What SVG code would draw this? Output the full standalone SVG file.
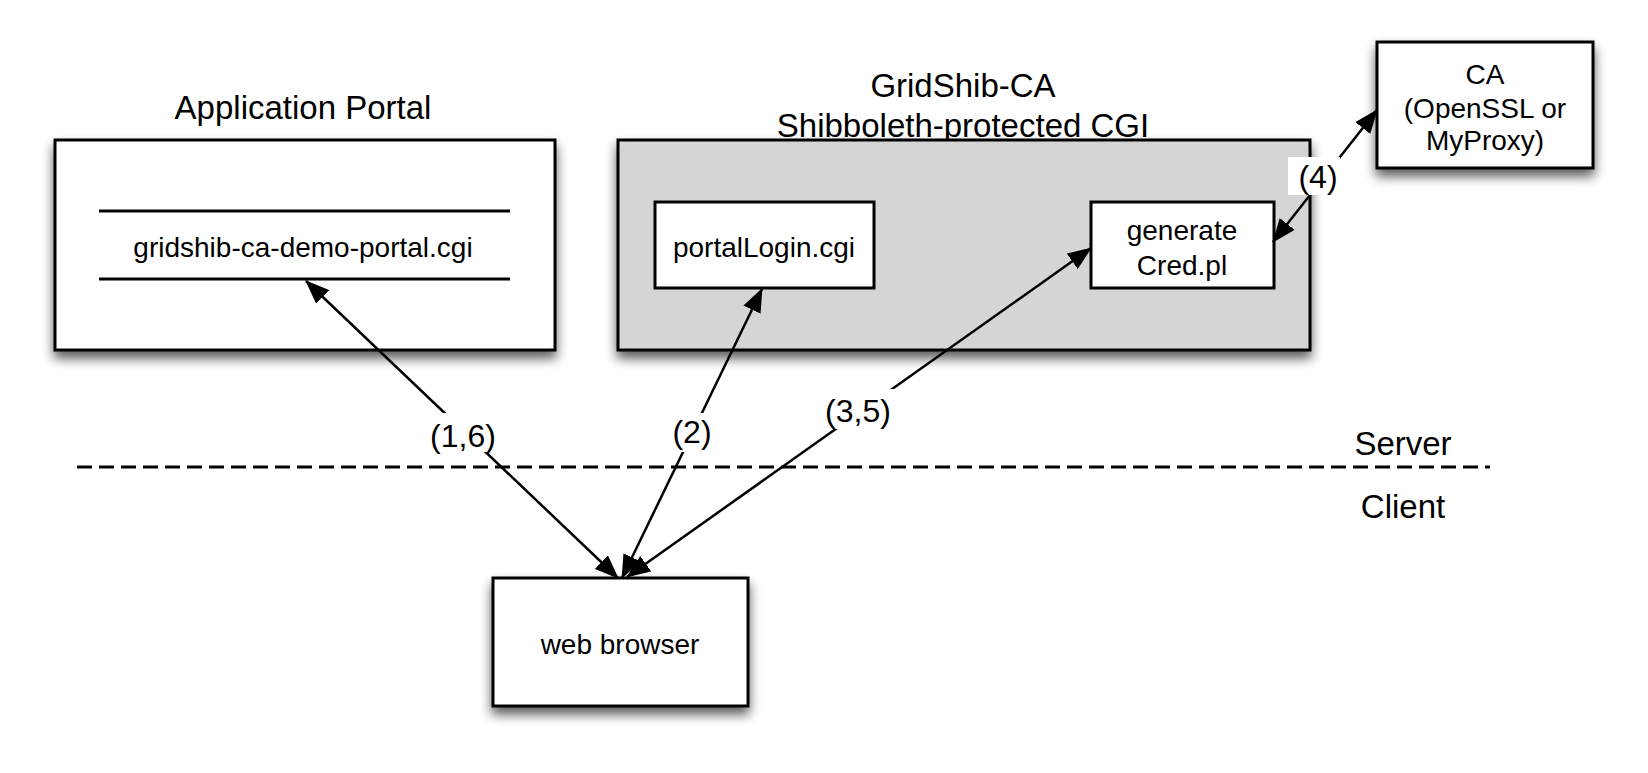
<svg xmlns="http://www.w3.org/2000/svg" width="1648" height="773" viewBox="0 0 1648 773">
<style>
text{font-family:"Liberation Sans",Arial,Helvetica,sans-serif;fill:#000;text-anchor:middle}
.big{font-size:33px}
.med{font-size:28px}
.lbl{font-size:32px}
.box{fill:#fff;stroke:#000;stroke-width:3}
.gray{fill:#d5d5d5;stroke:#000;stroke-width:3}
.sep{stroke:#000;stroke-width:3}
.conn{stroke:#000;stroke-width:2.5;fill:none;marker-start:url(#ah);marker-end:url(#ah)}
.lbg{fill:#fff}
</style>
<defs>
<filter id="sh" x="-10%" y="-10%" width="125%" height="135%">
<feGaussianBlur in="SourceAlpha" stdDeviation="6"/>
<feOffset dx="0" dy="7" result="b"/>
<feComponentTransfer><feFuncA type="linear" slope="0.65"/></feComponentTransfer>
<feMerge><feMergeNode/><feMergeNode in="SourceGraphic"/></feMerge>
</filter>
<marker id="ah" viewBox="0 0 24 19" refX="23" refY="9.5" markerWidth="24" markerHeight="19" markerUnits="userSpaceOnUse" orient="auto-start-reverse">
<path d="M0,0 L24,9.5 L0,19 z" fill="#000"/>
</marker>
</defs>
<rect width="1648" height="773" fill="#fff"/>

<g id="application-portal">
<text class="big" x="303" y="119">Application Portal</text>
<rect class="box" x="55" y="140" width="500" height="210" filter="url(#sh)"/>
<line class="sep" x1="99" y1="211" x2="510" y2="211"/>
<line class="sep" x1="99" y1="279" x2="510" y2="279"/>
<text class="med" x="303" y="257">gridshib-ca-demo-portal.cgi</text>
</g>

<g id="gridshib-ca">
<text class="big" x="963" y="97">GridShib-CA</text>
<text class="big" x="963" y="137">Shibboleth-protected CGI</text>
<rect class="gray" x="618" y="140" width="692" height="210" filter="url(#sh)"/>
</g>

<g id="portal-login">
<rect class="box" x="655" y="202" width="219" height="86"/>
<text class="med" x="764" y="257">portalLogin.cgi</text>
</g>

<g id="generate-cred">
<rect class="box" x="1091" y="202" width="183" height="86"/>
<text class="med" x="1182" y="240">generate</text>
<text class="med" x="1182" y="275">Cred.pl</text>
</g>

<g id="ca">
<rect class="box" x="1377" y="42" width="216" height="126" filter="url(#sh)"/>
<text class="med" x="1485" y="84">CA</text>
<text class="med" x="1485" y="118">(OpenSSL or</text>
<text class="med" x="1485" y="150">MyProxy)</text>
</g>

<g id="web-browser">
<rect class="box" x="493" y="578" width="255" height="128" filter="url(#sh)"/>
<text class="med" x="620" y="654">web browser</text>
</g>

<g id="server-client">
<line x1="77" y1="467" x2="1490" y2="467" stroke="#000" stroke-width="3" stroke-dasharray="15 7"/>
<text class="big" x="1403" y="455">Server</text>
<text class="big" x="1403" y="518">Client</text>
</g>

<g id="connectors">
<line class="conn" x1="618" y1="578" x2="306" y2="281"/>
<line class="conn" x1="622" y1="578" x2="762" y2="289"/>
<line class="conn" x1="627" y1="577" x2="1091" y2="248"/>
<line class="conn" x1="1273" y1="242" x2="1377" y2="110"/>
<rect class="lbg" x="428" y="413" width="71" height="39"/>
<text class="lbl" x="463" y="447">(1,6)</text>
<rect class="lbg" x="672" y="413" width="40" height="39"/>
<text class="lbl" x="692" y="443">(2)</text>
<rect class="lbg" x="822" y="389" width="72" height="40"/>
<text class="lbl" x="858" y="422">(3,5)</text>
<rect class="lbg" x="1288" y="157" width="52" height="38"/>
<text class="lbl" x="1318" y="188">(4)</text>
</g>
</svg>
